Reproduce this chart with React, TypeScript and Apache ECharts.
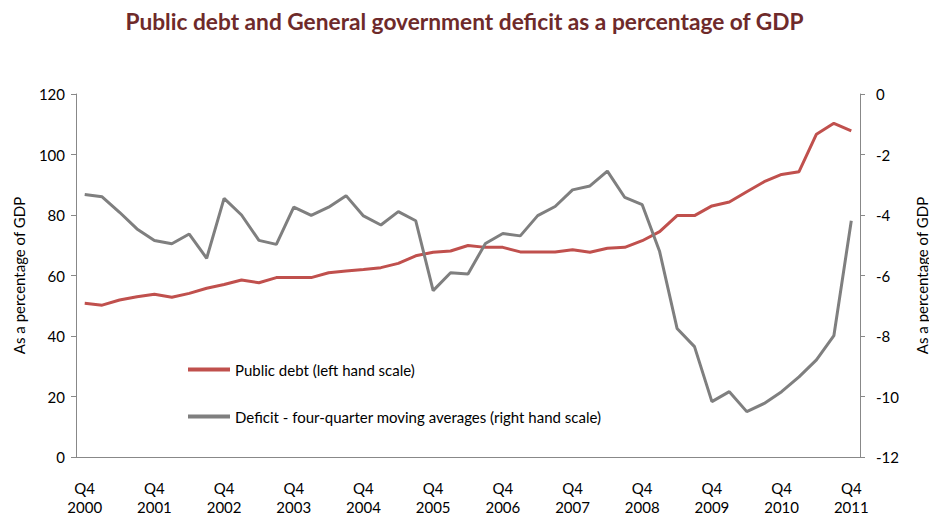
import React, { useEffect, useRef } from "react";
import * as echarts from "echarts";

const years = [2000, 2001, 2002, 2003, 2004, 2005, 2006, 2007, 2008, 2009, 2010, 2011];
const quarters = ["Q1", "Q2", "Q3", "Q4"];
const categories: string[] = [];
years.forEach((y) => {
  quarters.forEach((q) => {
    if (y === 2000 && q !== "Q4") return;
    categories.push(q + " " + y);
  });
});

const publicDebt = [
  50.8, 50.2, 51.9, 53.0, 53.8, 52.8, 54.1, 55.8, 57.0, 58.5, 57.6, 59.3,
  59.3, 59.3, 60.9, 61.5, 62.0, 62.6, 64.0, 66.5, 67.7, 68.1, 69.9, 69.3,
  69.3, 67.8, 67.8, 67.8, 68.5, 67.7, 69.0, 69.3, 71.5, 74.5, 79.8, 79.8,
  83.0, 84.3, 87.7, 91.0, 93.4, 94.3, 106.7, 110.3, 107.8,
];

const deficit = [
  -3.32, -3.4, -3.91, -4.46, -4.84, -4.95, -4.63, -5.43, -3.45, -4.0, -4.84, -4.97,
  -3.74, -4.01, -3.74, -3.36, -4.03, -4.33, -3.89, -4.19, -6.5, -5.91, -5.95, -4.94,
  -4.61, -4.69, -4.02, -3.72, -3.17, -3.04, -2.55, -3.42, -3.66, -5.21, -7.75, -8.35,
  -10.17, -9.84, -10.5, -10.23, -9.84, -9.35, -8.79, -7.99, -4.19,
];

const seriesNames = [
  "Public debt (left hand scale)",
  "Deficit - four-quarter moving averages (right hand scale)",
];

const FONT = "Lato, 'Open Sans', sans-serif";
const AXIS_COLOR = "#888888";

export default function App() {
  const ref = useRef<HTMLDivElement>(null);
  useEffect(() => {
    if (!ref.current) return;
    const chart = echarts.init(ref.current, undefined, { renderer: "svg" });
    chart.setOption({
      animation: false,
      textStyle: { fontFamily: FONT },
      title: {
        text: "Public debt and General government deficit as a percentage of GDP",
        left: "center",
        top: 5,
        textStyle: { color: "#6E2A2A", fontSize: 22.7, fontWeight: "bold", fontFamily: FONT },
      },
      grid: {
        left: 76,
        right: 69,
        top: 94,
        bottom: 61,
        containLabel: false,
        outerBoundsMode: "none",
      },
      legend: {
        orient: "vertical",
        left: 183,
        top: 357,
        itemWidth: 42,
        itemHeight: 4,
        itemGap: 32,
        icon: "rect",
        textStyle: { fontSize: 15, color: "#000", fontFamily: FONT },
        data: seriesNames,
      },
      xAxis: {
        type: "category",
        data: categories,
        boundaryGap: true,
        axisLine: { lineStyle: { color: AXIS_COLOR, width: 1 } },
        axisTick: { interval: 0, length: 6, lineStyle: { color: AXIS_COLOR } },
        axisLabel: {
          interval: 3,
          margin: 21,
          fontSize: 15,
          lineHeight: 19,
          color: "#000",
          fontFamily: FONT,
          formatter: (v: string) => v.replace(" ", "\n"),
        },
        splitLine: { show: false },
      },
      yAxis: [
        {
          type: "value",
          min: 0,
          max: 120,
          interval: 20,
          position: "left",
          name: "As a percentage of GDP",
          nameLocation: "middle",
          nameRotate: 90,
          nameGap: 50,
          nameTextStyle: { fontSize: 15, color: "#000", fontFamily: FONT },
          axisLine: { show: true, lineStyle: { color: AXIS_COLOR } },
          axisTick: { show: true, length: 5, lineStyle: { color: AXIS_COLOR } },
          axisLabel: { fontSize: 15, color: "#000", margin: 11, fontFamily: FONT },
          splitLine: { show: false },
        },
        {
          type: "value",
          min: -12,
          max: 0,
          interval: 2,
          position: "right",
          name: "As a percentage of GDP",
          nameLocation: "middle",
          nameRotate: 90,
          nameGap: 54,
          nameTextStyle: { fontSize: 15, color: "#000", fontFamily: FONT },
          axisLine: { show: true, lineStyle: { color: AXIS_COLOR } },
          axisTick: { show: true, length: 5, lineStyle: { color: AXIS_COLOR } },
          axisLabel: { fontSize: 15, color: "#000", margin: 16, fontFamily: FONT },
          splitLine: { show: false },
        },
      ],
      series: [
        {
          name: seriesNames[0],
          type: "line",
          yAxisIndex: 0,
          data: publicDebt,
          showSymbol: false,
          symbol: "none",
          lineStyle: { color: "#C0504D", width: 3 },
          itemStyle: { color: "#C0504D" },
        },
        {
          name: seriesNames[1],
          type: "line",
          yAxisIndex: 1,
          data: deficit,
          showSymbol: false,
          symbol: "none",
          lineStyle: { color: "#7F7F7F", width: 3 },
          itemStyle: { color: "#7F7F7F" },
        },
      ],
    });
    return () => chart.dispose();
  }, []);
  return <div ref={ref} style={{ width: 929, height: 518, position: "absolute", left: 0, top: 0 }} />;
}
